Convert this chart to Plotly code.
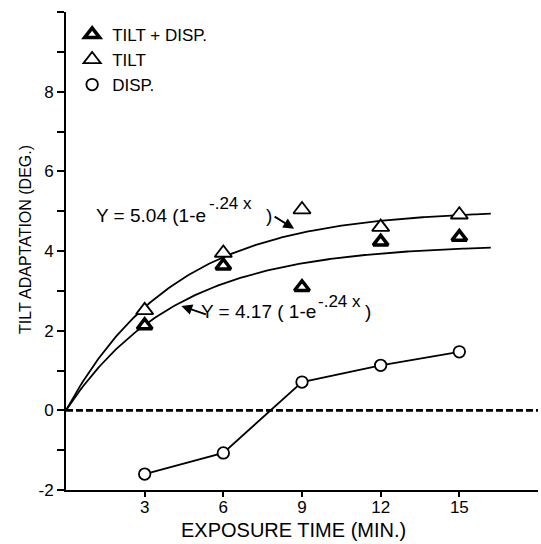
import numpy as np
import plotly.graph_objects as go

# ---- data ----
exposure_min = [3, 6, 9, 12, 15]
tilt_disp = [2.13, 3.63, 3.09, 4.23, 4.35]   # bold triangles
tilt_only = [2.51, 3.95, 5.04, 4.60, 4.91]   # thin triangles
disp_only = [-1.60, -1.07, 0.71, 1.13, 1.47]  # circles

# fitted curves printed on the chart: Y = A (1 - e^(-.24x))
fit_amp_tilt = 5.04
fit_amp_tilt_disp = 4.17
fit_rate = 0.24
fit_x_end = 16.2

zero_x = [0, 18]
zero_y = [0, 0]

x_tick_vals = [3, 6, 9, 12, 15]
x_tick_text = ["3", "6", "9", "12", "15"]
y_tick_vals = list(range(-2, 11))
y_tick_text = ["-2", "", "0", "", "2", "", "4", "", "6", "", "8", "", ""]

FONT = "Liberation Sans, Arial, sans-serif"

fit_x = np.linspace(0, fit_x_end, 200)
fit_tilt = fit_amp_tilt * (1 - np.exp(-fit_rate * fit_x))
fit_both = fit_amp_tilt_disp * (1 - np.exp(-fit_rate * fit_x))

fig = go.Figure()

fig.add_trace(go.Scatter(x=zero_x, y=zero_y, mode="lines",
                         line=dict(color="black", width=2.6, dash="7px,3px"),
                         showlegend=False, hoverinfo="skip"))
fig.add_trace(go.Scatter(x=fit_x, y=fit_tilt, mode="lines",
                         line=dict(color="black", width=1.8),
                         showlegend=False, hoverinfo="skip"))
fig.add_trace(go.Scatter(x=fit_x, y=fit_both, mode="lines",
                         line=dict(color="black", width=1.8),
                         showlegend=False, hoverinfo="skip"))
fig.add_trace(go.Scatter(x=exposure_min, y=disp_only, mode="lines",
                         line=dict(color="black", width=1.8),
                         showlegend=False, hoverinfo="skip"))

fig.add_trace(go.Scatter(x=exposure_min, y=tilt_disp, mode="markers",
                         name="TILT + DISP.",
                         marker=dict(symbol="triangle-up", size=13, color="white",
                                     line=dict(color="black", width=3.5))))
fig.add_trace(go.Scatter(x=exposure_min, y=tilt_only, mode="markers",
                         name="TILT",
                         marker=dict(symbol="triangle-up", size=15, color="white",
                                     line=dict(color="black", width=1.8))))
fig.add_trace(go.Scatter(x=exposure_min, y=disp_only, mode="markers",
                         name="DISP.",
                         marker=dict(symbol="circle", size=11.5, color="white",
                                     line=dict(color="black", width=1.8))))

main_font = dict(family=FONT, size=19, color="black")
sup_font = dict(family=FONT, size=17, color="black")

# equation 1 : Y = 5.04 (1-e^-.24x)
fig.add_annotation(x=5.38, y=4.88, xref="x", yref="y", xanchor="right", yanchor="middle",
                   text="Y = 5.04 (1-e", showarrow=False, font=main_font, borderpad=0)
fig.add_annotation(x=5.42, y=5.2, xref="x", yref="y", xanchor="left", yanchor="middle",
                   text="-.24 x", showarrow=False, font=sup_font, borderpad=0)
fig.add_annotation(x=7.6, y=4.88, xref="x", yref="y", xanchor="left", yanchor="middle",
                   text=")", showarrow=False, font=main_font, borderpad=0)
# equation 2 : Y = 4.17 (1-e^-.24x)
fig.add_annotation(x=9.57, y=2.47, xref="x", yref="y", xanchor="right", yanchor="middle",
                   text="Y = 4.17 ( 1-e", showarrow=False, font=main_font, borderpad=0)
fig.add_annotation(x=9.58, y=2.74, xref="x", yref="y", xanchor="left", yanchor="middle",
                   text="-.24 x", showarrow=False, font=sup_font, borderpad=0)
fig.add_annotation(x=11.38, y=2.47, xref="x", yref="y", xanchor="left", yanchor="middle",
                   text=")", showarrow=False, font=main_font, borderpad=0)
# arrows
fig.add_annotation(x=8.7, y=4.56, xref="x", yref="y", text="", showarrow=True,
                   ax=-21, ay=-13, arrowhead=2, arrowsize=1.2, arrowwidth=1.8,
                   arrowcolor="black")
fig.add_annotation(x=4.4, y=2.62, xref="x", yref="y", text="", showarrow=True,
                   ax=26, ay=9, arrowhead=2, arrowsize=1.2, arrowwidth=1.8,
                   arrowcolor="black")

fig.add_annotation(x=-0.087, y=0.525, xref="paper", yref="paper",
                   xanchor="center", yanchor="middle",
                   text="TILT ADAPTATION (DEG.)", textangle=-90, showarrow=False,
                   font=dict(family=FONT, size=16, color="black"))
fig.add_annotation(x=0.483, y=-0.084, xref="paper", yref="paper",
                   xanchor="center", yanchor="middle",
                   text="EXPOSURE TIME (MIN.)", showarrow=False,
                   font=dict(family=FONT, size=20, color="black"))

fig.update_xaxes(range=[0, 18], tickvals=x_tick_vals, ticktext=x_tick_text,
                 ticks="outside", ticklen=5, tickwidth=1.5, tickcolor="black",
                 ticklabelstandoff=-4,
                 showline=True, linecolor="black", linewidth=2, showgrid=False,
                 zeroline=False, tickfont=dict(family=FONT, size=17, color="black"))
fig.update_yaxes(range=[-2, 10], tickvals=y_tick_vals, ticktext=y_tick_text,
                 ticks="outside", ticklen=7, tickwidth=1.5, tickcolor="black",
                 showline=True, linecolor="black", linewidth=2, showgrid=False,
                 zeroline=False, tickfont=dict(family=FONT, size=17, color="black"))

fig.update_layout(
    width=541, height=544,
    margin=dict(l=66, r=3, t=12, b=54),
    paper_bgcolor="white", plot_bgcolor="white",
    font=dict(family=FONT, color="black"),
    legend=dict(x=0.013, y=0.99, xanchor="left", yanchor="top",
                bgcolor="rgba(0,0,0,0)", font=dict(family=FONT, size=17, color="black"),
                traceorder="normal", tracegroupgap=0),
)

fig.write_html("out.html", config={"displayModeBar": False},
               post_script="document.body.style.margin='0px';")
